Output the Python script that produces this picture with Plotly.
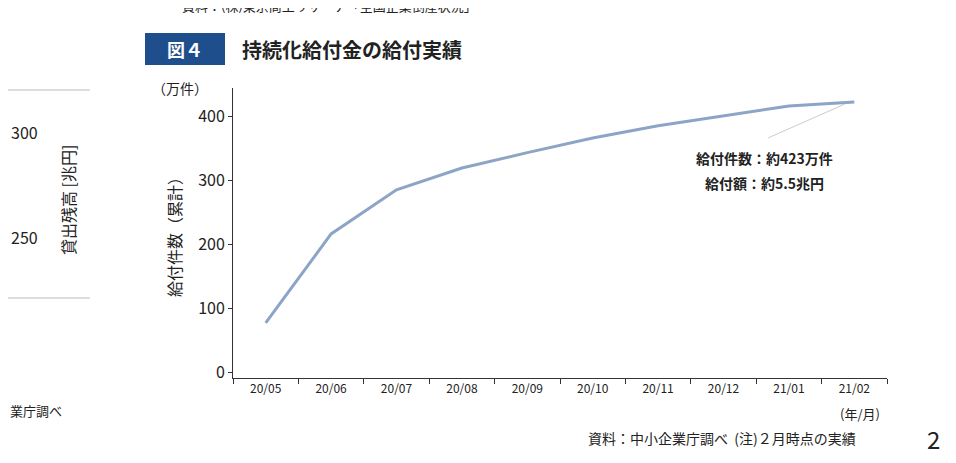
import plotly.graph_objects as go

months = ["20/05","20/06","20/07","20/08","20/09","20/10","20/11","20/12","21/01","21/02"]
counts = [78, 217, 286, 320, 344, 367, 386, 402, 417, 423]
yticks = [0, 100, 200, 300, 400]

OFF = 8  # page body margin
L, R, T, B = 233, 887, 88, 378
W, H = 956 - OFF, 463 - OFF
def px(x): return (x - L) / (R - L)
def py(y): return (B - y) / (B - T)

F = "Noto Sans CJK JP"
fig = go.Figure(go.Scatter(x=months, y=counts, mode="lines",
                           line=dict(color="#8ca5c6", width=3)))
fig.update_layout(
    width=W, height=H, margin=dict(l=L-OFF, r=956-R, t=T-OFF, b=463-B),
    plot_bgcolor="white", paper_bgcolor="white", showlegend=False,
    font=dict(family=F, color="#222"),
    xaxis=dict(type="category", range=[-0.5, 9.5], showline=True, linecolor="#333",
               ticks="outside", tickson="boundaries", ticklen=5, tickcolor="#333",
               tickfont=dict(size=12), showgrid=False),
    yaxis=dict(range=[-8, 445], tickvals=yticks, showline=True, linecolor="#333",
               ticks="outside", ticklen=4, tickcolor="#333", showgrid=False,
               zeroline=False, tickfont=dict(size=16),
               title=dict(text="給付件数（累計）", font=dict(size=16), standoff=12)),
)
ann = []
def A(x, y, text, size=14, xa="left", ya="middle", **kw):
    ann.append(dict(x=px(x), y=py(y), xref="paper", yref="paper", text=text, showarrow=False,
                    xanchor=xa, yanchor=ya, font=dict(size=size, family=F, **kw.pop("font", {})), **kw))
A(180, 17, "資料：(株)東京商工リサーチ「全国企業倒産状況」", 13, ya="bottom")
A(240, 49, "<b>持続化給付金の給付実績</b>", 20)
A(185, 49, "<b>図４</b>", 18, xa="center", font=dict(color="white"))
A(150, 88, "（万件）", 14)
A(40, 132, "300", 16, xa="right")
A(40, 237, "250", 16, xa="right")
A(68, 200, "貸出残高 [兆円]", 16, xa="center", textangle=-90)
A(8, 410, "業庁調べ", 13)
A(764, 158, "<b>給付件数：約423万件</b>", 14, xa="center")
A(764, 183, "<b>給付額：約5.5兆円</b>", 14, xa="center")
A(882, 413, "(年/月)", 13, xa="right")
A(858, 438, "資料：中小企業庁調べ  (注)２月時点の実績", 14, xa="right")
A(933, 438, "2", 24, xa="center")
fig.update_layout(annotations=ann)
shapes = [
    dict(type="rect", x0=px(145), x1=px(225), y0=py(33), y1=py(65), xref="paper", yref="paper",
         fillcolor="#1f4e8c", line=dict(width=0)),
    dict(type="line", x0=px(768), x1=px(845), y0=py(138), y1=py(104), xref="paper", yref="paper",
         line=dict(color="#ccc", width=1)),
    dict(type="line", x0=px(8), x1=px(90), y0=py(90), y1=py(90), xref="paper", yref="paper",
         line=dict(color="#bbb", width=1)),
    dict(type="line", x0=px(8), x1=px(90), y0=py(298), y1=py(298), xref="paper", yref="paper",
         line=dict(color="#bbb", width=1)),
]
fig.update_layout(shapes=shapes)
fig.write_html("out.html")
